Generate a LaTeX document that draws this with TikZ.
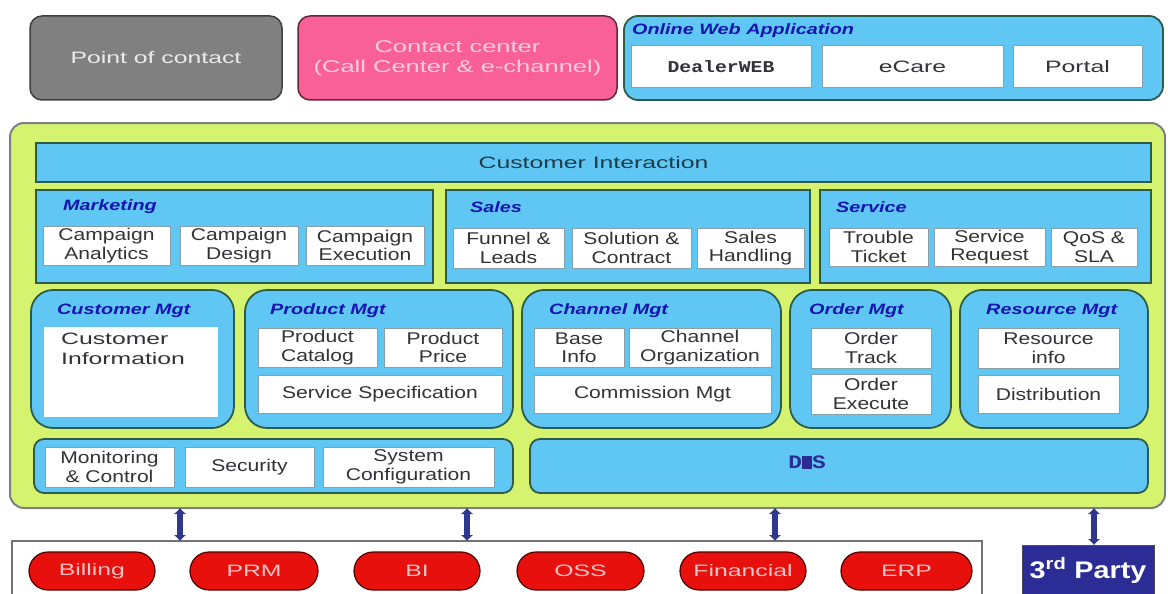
\documentclass[tikz,border=0pt]{standalone}
\usepackage{fontspec}
\setmainfont[FakeStretch=1.5]{Liberation Sans}
\newfontfamily\boxfont[FakeStretch=1.24]{Liberation Sans}
\newfontfamily\ttlfont[FakeStretch=1.32]{Liberation Sans}
\newfontfamily\monofont[FakeStretch=1.2]{Liberation Mono}
\newfontfamily\wideboldfont[FakeStretch=1.2]{Liberation Sans}
\usetikzlibrary{arrows.meta}

\definecolor{skyb}{RGB}{96,199,245}
\definecolor{limeg}{RGB}{214,243,112}
\definecolor{edgeg}{RGB}{44,92,74}
\definecolor{wedge}{RGB}{135,160,170}
\definecolor{txtgray}{RGB}{50,50,55}
\definecolor{titleblue}{RGB}{20,20,175}
\definecolor{outergray}{RGB}{120,130,130}
\definecolor{pocgray}{RGB}{128,128,128}
\definecolor{pinkf}{RGB}{248,96,150}
\definecolor{pinkt}{RGB}{255,205,222}
\definecolor{redf}{RGB}{232,16,12}
\definecolor{redt}{RGB}{246,196,196}
\definecolor{navy}{RGB}{44,44,150}
\definecolor{arrowblue}{RGB}{46,56,140}

% box from its two corners: name, style, x1, y1, x2, y2, text
\newcommand\bx[7]{%
  \node[inner sep=0pt, outer sep=0pt, minimum width={#5-#3}, minimum height={#6-#4}, #2]
    (#1) at ({(#3+#5)/2},{(#4+#6)/2}) {#7};}

\begin{document}
\begin{tikzpicture}[x=1pt, y=-1pt,
  lbl/.style={font=\boxfont\fontsize{17}{18.5}\selectfont, text=txtgray, align=center},
  biglbl/.style={font=\fontsize{16.5}{20}\selectfont, text=txtgray},
  wbox/.style={lbl, draw=wedge, line width=1pt, fill=white},
  panel/.style={draw=edgeg, line width=1.8pt, fill=skyb},
  rpanel/.style={panel, rounded corners=22pt},
  ttl/.style={font=\ttlfont\bfseries\itshape\fontsize{15}{17}\selectfont, text=titleblue, anchor=west, inner sep=0pt},
  pill/.style={draw=black!70!red, line width=1.2pt, fill=redf, rounded corners=19pt,
    font=\fontsize{16.5}{18}\selectfont, text=redt},
  link/.style={draw=arrowblue, line width=5.5pt, {Latex[length=6pt,width=13pt]}-{Latex[length=6pt,width=13pt]}}
]
\useasboundingbox (0,0) rectangle (1168,594);
\clip (0,0) rectangle (1168,594);
\fill[white] (0,0) rectangle (1168,594);

% ---- access channels ----
\bx{poc}{draw=black!75, line width=1.5pt, fill=pocgray, rounded corners=12pt,
  font=\fontsize{16.5}{20}\selectfont, text=white!92!black}{30}{16}{282}{100}{Point of contact}
\bx{cc}{draw=black!60!pinkf, line width=1.5pt, fill=pinkf, rounded corners=12pt, align=center,
  font=\fontsize{17}{20}\selectfont, text=pinkt}{298}{16}{617}{100}{Contact center\\(Call Center \& e-channel)}
\bx{owa}{panel, rounded corners=14pt}{624}{16}{1163}{100}{}
\node[ttl] (owat) at (632,31) {Online Web Application};
\bx{dweb}{wbox}{631}{46}{811}{88}{\monofont\bfseries\fontsize{16.5}{18}\selectfont DealerWEB}
\bx{ecare}{wbox, biglbl}{822}{46}{1003}{88}{eCare}
\bx{portal}{wbox, biglbl}{1013}{46}{1142}{88}{Portal}

% ---- CRM core ----
\bx{core}{draw=outergray, line width=2pt, fill=limeg, rounded corners=14pt}{10}{123}{1165}{508}{}
\bx{ci}{panel, biglbl, text=black!70!skyb}{36}{143}{1151}{182}{Customer Interaction}

% marketing / sales / service
\bx{mkt}{panel}{36}{190}{433}{283}{}
\node[ttl] (mktt) at (63,207) {Marketing};
\bx{ca}{wbox}{43}{226}{170}{265}{Campaign\\Analytics}
\bx{cd}{wbox}{180}{226}{298}{265}{Campaign\\Design}
\bx{ce}{wbox}{306}{226}{424}{265}{Campaign\\Execution}

\bx{sal}{panel}{446}{190}{810}{283}{}
\node[ttl] (salt) at (470,207) {Sales};
\bx{fl}{wbox}{453}{228}{564}{268}{Funnel \&\\Leads}
\bx{sc}{wbox}{572}{228}{691}{268}{Solution \&\\Contract}
\bx{sh}{wbox}{697}{228}{804}{268}{Sales\\Handling}

\bx{srv}{panel}{820}{190}{1151}{283}{}
\node[ttl] (srvt) at (836,207) {Service};
\bx{tt}{wbox}{829}{228}{928}{266}{Trouble\\Ticket}
\bx{sr}{wbox}{934}{228}{1045}{266}{Service\\Request}
\bx{qos}{wbox}{1051}{228}{1137}{266}{QoS \&\\SLA}

% management domains
\bx{cm}{rpanel}{31}{290}{234}{428}{}
\node[ttl] (cmt) at (57,311) {Customer Mgt};
\bx{cinfo}{fill=white}{44}{327}{218}{417}{}
\node[biglbl, anchor=north west, align=left, inner sep=0pt] (cinfot) at (61,333) {Customer\\Information};

\bx{pm}{rpanel}{245}{290}{513}{428}{}
\node[ttl] (pmt) at (270,311) {Product Mgt};
\bx{pc}{wbox}{258}{328}{377}{367}{Product\\Catalog}
\bx{pp}{wbox}{384}{328}{502}{367}{Product\\Price}
\bx{ss}{wbox}{258}{375}{502}{413}{Service Specification}

\bx{chm}{rpanel}{522}{290}{781}{428}{}
\node[ttl] (chmt) at (549,311) {Channel Mgt};
\bx{bi}{wbox}{534}{328}{624}{367}{Base\\Info}
\bx{co}{wbox}{629}{328}{771}{367}{Channel\\Organization}
\bx{com}{wbox}{534}{375}{771}{413}{Commission Mgt}

\bx{om}{rpanel}{790}{290}{951}{428}{}
\node[ttl] (omt) at (809,311) {Order Mgt};
\bx{otr}{wbox}{811}{328}{931}{368}{Order\\Track}
\bx{oex}{wbox}{811}{374}{931}{414}{Order\\Execute}

\bx{rm}{rpanel}{960}{290}{1148}{428}{}
\node[ttl] (rmt) at (986,311) {Resource Mgt};
\bx{ri}{wbox}{978}{328}{1119}{368}{Resource\\info}
\bx{dist}{wbox}{978}{375}{1119}{413}{Distribution}

% system layer
\bx{sys}{panel, rounded corners=10pt}{34}{439}{513}{493}{}
\bx{mon}{wbox}{45}{447}{174}{487}{Monitoring\\\& Control}
\bx{sec}{wbox}{185}{447}{314}{487}{Security}
\bx{cfg}{wbox}{323}{447}{494}{487}{System\\Configuration}
\bx{dms}{panel, rounded corners=10pt}{530}{439}{1148}{493}{}
\node[font=\monofont\bfseries\fontsize{19}{20}\selectfont, text=navy, inner sep=0pt]
  (dmst) at (807,462) {D\rule[-0.5pt]{10pt}{12.5pt}S};

% ---- back-end systems ----
\bx{be}{draw=black!55, line width=1.2pt, fill=white}{12}{541}{982}{640}{}
\bx{billing}{pill}{29}{552}{155}{590}{Billing}
\bx{prm}{pill}{190}{552}{318}{590}{PRM}
\bx{bisys}{pill}{354}{552}{480}{590}{BI}
\bx{oss}{pill}{517}{552}{644}{590}{OSS}
\bx{fin}{pill}{680}{552}{806}{590}{Financial}
\bx{erp}{pill}{841}{552}{972}{590}{ERP}
\bx{third}{draw=black!70, line width=1pt, fill=navy}{1022}{545}{1154}{640}{}
\node[font=\wideboldfont\bfseries\fontsize{24}{26}\selectfont, text=white, inner sep=0pt]
  (thirdt) at (1088,570) {3\textsuperscript{rd} Party};

% ---- links between the core and the back end ----
\coordinate (l1) at (180,0);
\coordinate (l2) at (467,0);
\coordinate (l3) at (775,0);
\coordinate (l4) at (1094,0);
\draw[link] (l1 |- core.south) -- (l1 |- be.north);
\draw[link] (l2 |- core.south) -- (l2 |- be.north);
\draw[link] (l3 |- core.south) -- (l3 |- be.north);
\draw[link] (l4 |- core.south) -- (l4 |- third.north);
\end{tikzpicture}
\end{document}
